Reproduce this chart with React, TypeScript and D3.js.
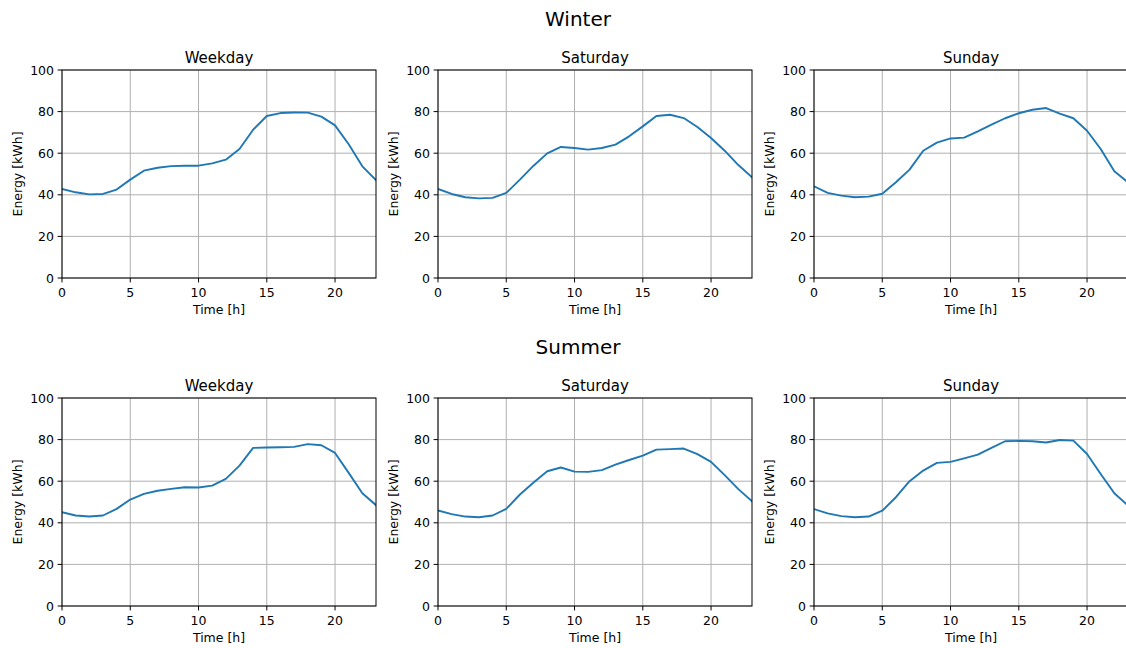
import React from "react";
import * as d3 from "d3";

const hours = d3.range(0, 24);
const dayTypes = ["Weekday", "Saturday", "Sunday"];
const seasons = ["Winter", "Summer"];

const winterWeekday = [42.8, 41.2, 40.2, 40.4, 42.5, 47.3, 51.6, 53.0, 53.8, 54.0, 54.0, 55.1, 56.9, 62.0, 71.3, 77.9, 79.3, 79.6, 79.5, 77.6, 73.4, 64.3, 53.7, 47.1];
const winterSaturday = [42.8, 40.4, 38.8, 38.3, 38.5, 40.9, 47.3, 54.0, 59.9, 63.0, 62.5, 61.7, 62.5, 64.1, 68.1, 72.9, 77.9, 78.5, 76.9, 72.6, 67.3, 61.2, 54.3, 48.4];
const winterSunday = [44.1, 40.9, 39.6, 38.8, 39.1, 40.5, 46.0, 52.1, 61.2, 65.1, 67.1, 67.5, 70.5, 73.7, 76.8, 79.2, 80.9, 81.7, 79.0, 76.8, 70.8, 62.0, 51.3, 46.0];
const summerWeekday = [45.1, 43.5, 43.0, 43.5, 46.7, 51.2, 53.9, 55.4, 56.3, 57.1, 57.0, 57.9, 61.1, 67.5, 76.0, 76.2, 76.3, 76.5, 77.8, 77.3, 73.6, 64.0, 54.2, 48.5];
const summerSaturday = [45.9, 44.2, 43.0, 42.7, 43.5, 46.7, 53.6, 59.4, 64.8, 66.6, 64.6, 64.5, 65.3, 68.0, 70.2, 72.3, 75.2, 75.4, 75.7, 73.0, 69.3, 62.9, 56.2, 50.4];
const summerSunday = [46.6, 44.5, 43.2, 42.7, 43.0, 45.8, 52.3, 60.0, 65.1, 68.8, 69.3, 71.0, 72.8, 76.0, 79.2, 79.4, 79.2, 78.6, 79.8, 79.5, 73.1, 63.5, 54.2, 48.3];

const seriesBySeason = [
  [winterWeekday, winterSaturday, winterSunday],
  [summerWeekday, summerSaturday, summerSunday],
];

const xTicks = [0, 5, 10, 15, 20];
const yTicks = [0, 20, 40, 60, 80, 100];

const W = 1126;
const H = 648;
const colLeft = [62, 438, 814];
const plotW = 314;
const rowTop = [70, 398];
const plotH = 208;
const supTitleY = [26, 354];
const FONT = "DejaVu Sans, sans-serif";

function Panel({ left, top, title, values }: { left: number; top: number; title: string; values: number[] }) {
  const x = d3.scaleLinear().domain([0, 23]).range([0, plotW]);
  const y = d3.scaleLinear().domain([0, 100]).range([plotH, 0]);
  const line = d3
    .line<number>()
    .x((_, i) => x(hours[i]))
    .y((d) => y(d));
  const clipId = `clip-${left}-${top}`;
  return (
    <g transform={`translate(${left},${top})`}>
      <defs>
        <clipPath id={clipId}>
          <rect x={0} y={0} width={plotW} height={plotH} />
        </clipPath>
      </defs>
      {xTicks.map((t) => (
        <line key={"gx" + t} x1={x(t)} x2={x(t)} y1={0} y2={plotH} stroke="#b0b0b0" strokeWidth={1} />
      ))}
      {yTicks.map((t) => (
        <line key={"gy" + t} x1={0} x2={plotW} y1={y(t)} y2={y(t)} stroke="#b0b0b0" strokeWidth={1} />
      ))}
      <path d={line(values) || ""} fill="none" stroke="#1f77b4" strokeWidth={1.9} clipPath={`url(#${clipId})`} strokeLinejoin="round" strokeLinecap="square" />
      <rect x={0} y={0} width={plotW} height={plotH} fill="none" stroke="#000" strokeWidth={1} />
      {xTicks.map((t) => (
        <g key={"tx" + t}>
          <line x1={x(t)} x2={x(t)} y1={plotH} y2={plotH + 4.4} stroke="#000" strokeWidth={1} />
          <text x={x(t)} y={plotH + 19} textAnchor="middle" fontSize={12.5} fontFamily={FONT} fill="#000">
            {t}
          </text>
        </g>
      ))}
      {yTicks.map((t) => (
        <g key={"ty" + t}>
          <line x1={-4.4} x2={0} y1={y(t)} y2={y(t)} stroke="#000" strokeWidth={1} />
          <text x={-8} y={y(t)} dy="0.36em" textAnchor="end" fontSize={12.5} fontFamily={FONT} fill="#000">
            {t}
          </text>
        </g>
      ))}
      <text x={plotW / 2} y={-7} textAnchor="middle" fontSize={15} fontFamily={FONT} fill="#000">
        {title}
      </text>
      <text x={plotW / 2} y={plotH + 36} textAnchor="middle" fontSize={12.5} fontFamily={FONT} fill="#000">
        Time [h]
      </text>
      <text
        transform={`translate(-40,${plotH / 2}) rotate(-90)`}
        textAnchor="middle"
        fontSize={12.5}
        fontFamily={FONT}
        fill="#000"
      >
        Energy [kWh]
      </text>
    </g>
  );
}

export default function App() {
  return (
    <svg width={W} height={H} style={{ position: "absolute", left: 0, top: 0, background: "#fff" }}>
      <rect x={0} y={0} width={W} height={H} fill="#fff" />
      {seasons.map((s, r) => (
        <g key={s}>
          <text x={578} y={supTitleY[r]} textAnchor="middle" fontSize={20} fontFamily={FONT} fill="#000">
            {s}
          </text>
          {dayTypes.map((d, c) => (
            <Panel key={d} left={colLeft[c]} top={rowTop[r]} title={d} values={seriesBySeason[r][c]} />
          ))}
        </g>
      ))}
    </svg>
  );
}
